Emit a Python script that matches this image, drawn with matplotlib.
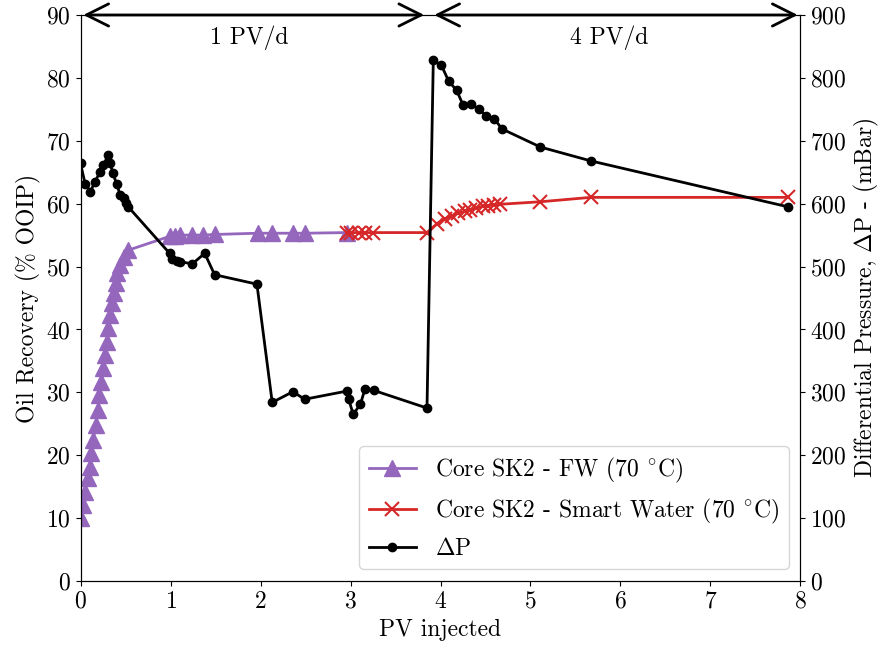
import matplotlib
matplotlib.use("Agg")
import matplotlib.pyplot as plt

plt.rcParams["font.family"] = "serif"
plt.rcParams["font.serif"] = ["cmr10", "DejaVu Serif"]
plt.rcParams["mathtext.fontset"] = "cm"
plt.rcParams["axes.unicode_minus"] = False
plt.rcParams["axes.formatter.use_mathtext"] = True
plt.rcParams["font.size"] = 17

# Oil recovery, formation water flood (1 PV/d)
fw_pv = [0.01, 0.03, 0.05, 0.08, 0.10, 0.12, 0.14, 0.17, 0.19, 0.21, 0.23, 0.25,
         0.27, 0.29, 0.31, 0.33, 0.35, 0.37, 0.39, 0.41, 0.44, 0.48, 0.53,
         0.99, 1.05, 1.11, 1.24, 1.36, 1.49, 1.97, 2.13, 2.36, 2.49, 2.96]
fw_rec = [10.0, 12.1, 14.2, 16.4, 18.1, 20.4, 22.4, 24.8, 27.2, 29.6, 31.6, 33.9,
          35.9, 38.0, 40.2, 42.3, 44.2, 45.8, 47.4, 49.0, 50.2, 51.5, 52.6,
          54.8, 54.9, 55.0, 55.0, 55.0, 55.1, 55.3, 55.3, 55.3, 55.3, 55.4]

# Oil recovery, smart water flood
sw_pv = [2.96, 3.01, 3.09, 3.16, 3.25, 3.85, 3.96, 4.05, 4.13, 4.20, 4.27, 4.33,
         4.40, 4.47, 4.53, 4.60, 4.66, 5.11, 5.67, 7.86]
sw_rec = [55.4, 55.4, 55.4, 55.4, 55.4, 55.4, 56.8, 57.6, 58.1, 58.5, 58.8, 59.0,
          59.3, 59.6, 59.7, 59.8, 59.9, 60.3, 61.0, 61.0]

# Differential pressure across the core
dp_pv = [0.00, 0.05, 0.11, 0.16, 0.22, 0.25, 0.31, 0.33, 0.36, 0.40, 0.44, 0.48,
         0.51, 0.53, 0.99, 1.02, 1.07, 1.11, 1.24, 1.38, 1.49, 1.96, 2.13, 2.36,
         2.49, 2.96, 2.98, 3.03, 3.11, 3.16, 3.26, 3.85,
         3.92, 4.01, 4.09, 4.18, 4.25, 4.34, 4.43, 4.51, 4.60, 4.68, 5.11, 5.67, 7.86]
dp_mbar = [664, 632, 619, 635, 651, 661, 677, 664, 648, 632, 614, 609,
           601, 595, 521, 512, 509, 508, 504, 521, 487, 472, 284, 301,
           289, 302, 289, 265, 281, 305, 303, 275,
           828, 820, 795, 780, 757, 758, 750, 739, 735, 719, 690, 668, 595]

fig = plt.figure(figsize=(8.81, 6.51), dpi=100)
ax = fig.add_axes([0.0914, 0.1075, 0.8172, 0.8695])
ax2 = ax.twinx()

l1, = ax.plot(fw_pv, fw_rec, color="#9467bd", lw=2, marker="^", ms=11,
              label=r"Core SK2 - FW (70 $^{\circ}$C)")
l2, = ax.plot(sw_pv, sw_rec, color="#d62728", lw=2, marker="x", ms=10, mew=1.5,
              label=r"Core SK2 - Smart Water (70 $^{\circ}$C)")
l3, = ax2.plot(dp_pv, dp_mbar, color="black", lw=2, marker="o", ms=6,
               label=r"$\Delta$P")

ax.set_xlim(0, 8)
ax.set_ylim(0, 90)
ax2.set_ylim(0, 900)
ax.set_xticks(range(0, 9))
ax.set_yticks(range(0, 91, 10))
ax2.set_yticks(range(0, 901, 100))

ax.set_xlabel("PV injected")
ax.set_ylabel("Oil Recovery (% OOIP)")
ax2.set_ylabel(r"Differential Pressure, $\Delta$P - (mBar)")

# injection-rate periods
arrow = dict(arrowstyle="<->", lw=2, color="black", mutation_scale=40)
ax.annotate("", xy=(3.85, 90), xytext=(0, 90), arrowprops=arrow,
            annotation_clip=False)
ax.annotate("", xy=(8.0, 90), xytext=(3.9, 90), arrowprops=arrow,
            annotation_clip=False)
ax.text(1.87, 86.3, "1 PV/d", ha="center", va="center")
ax.text(5.87, 86.3, "4 PV/d", ha="center", va="center")

ax2.legend(handles=[l1, l2, l3], loc="lower right")

fig.savefig("out.png", dpi=100)
